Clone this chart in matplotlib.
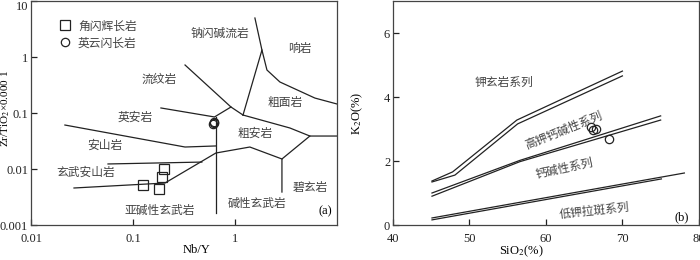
import numpy as np
import matplotlib
matplotlib.use("Agg")
import matplotlib.pyplot as plt

plt.rcParams['font.family'] = ['Liberation Serif', 'Noto Sans CJK SC']
plt.rcParams['mathtext.fontset'] = 'stix'
CJK = ['Noto Sans CJK SC', 'DejaVu Sans']

# ---- (a) Zr/TiO2 - Nb/Y ----
# boundary lines, (Nb/Y, Zr/TiO2*0.0001)
a_lines = [
    [(1.57, 4.97), (1.84, 1.33), (2.06, 0.586), (2.76, 0.358), (6.08, 0.185), (10, 0.145)],
    [(1.84, 1.33), (1.20, 0.092)],
    [(0.324, 0.72), (0.914, 0.128), (1.20, 0.092)],
    [(0.188, 0.123), (0.63, 0.085), (0.914, 0.128)],
    [(1.20, 0.092), (3.46, 0.054), (5.43, 0.0388), (10, 0.0388)],
    [(5.43, 0.0388), (2.89, 0.0151), (2.89, 0.00388)],
    [(2.89, 0.0151), (1.40, 0.0247), (0.65, 0.0193), (0.206, 0.00562), (0.0264, 0.00458)],
    [(0.0215, 0.061), (0.324, 0.0247), (0.65, 0.0258)],
    [(0.65, 0.085), (0.65, 0.00164)],
    [(0.0569, 0.0123), (0.474, 0.0133)],
]
a_labels = ['钠闪碱流岩', '响岩', '流纹岩', '粗面岩', '英安岩', '粗安岩', '安山岩',
            '玄武安山岩', '碧玄岩', '碱性玄武岩', '亚碱性玄武岩']
a_label_x = [0.713, 4.34, 0.18, 3.09, 0.105, 1.57, 0.0531, 0.0346, 5.43, 1.64, 0.184]
a_label_y = [2.68, 1.45, 0.405, 0.157, 0.085, 0.044, 0.0268, 0.00883, 0.00477, 0.00247, 0.00185]

gabbro_nby = [0.125, 0.180, 0.192, 0.201]
gabbro_zr = [0.00518, 0.00439, 0.0072, 0.0100]
tonalite_nby = [0.61, 0.62, 0.63]
tonalite_zr = [0.064, 0.068, 0.066]

# ---- (b) K2O - SiO2 ----
b_lines = [
    [(45.1, 1.375), (47.8, 1.66), (56.2, 3.28), (70.0, 4.81)],
    [(45.1, 1.345), (48.1, 1.56), (56.3, 3.16), (70.0, 4.66)],
    [(45.1, 1.0), (56.6, 2.02), (75.0, 3.41)],
    [(45.1, 0.9), (56.6, 1.98), (75.0, 3.28)],
    [(45.1, 0.22), (78.1, 1.625)],
    [(45.1, 0.16), (75.1, 1.44)],
]
b_labels = ['钾玄岩系列', '高钾钙碱性系列', '钙碱性系列', '低钾拉斑系列']
b_label_x = [54.5, 62.3, 62.4, 66.3]
b_label_y = [4.47, 2.97, 1.78, 0.44]
b_label_rot = [0, 22, 12, 6]

ton_sio2 = [65.9, 66.2, 66.5, 68.2]
ton_k2o = [3.05, 2.98, 3.0, 2.69]

fig = plt.figure(figsize=(7, 2.6), dpi=100)
ax1 = fig.add_axes([0.0443, 0.1346, 0.437, 0.8615])
ax2 = fig.add_axes([0.5614, 0.1346, 0.437, 0.8615])

lc = '#222222'
tc = '#444444'

for ln in a_lines:
    xs, ys = zip(*ln)
    ax1.plot(xs, ys, color=lc, lw=0.9)
for t, x, y in zip(a_labels, a_label_x, a_label_y):
    ax1.text(x, y, t, family=CJK, fontsize=8.5, color=tc, ha='center', va='center')
ax1.plot(gabbro_nby, gabbro_zr, 's', ms=6.5, mfc='none', mec=lc, mew=0.9, label='角闪辉长岩')
ax1.plot(tonalite_nby, tonalite_zr, 'o', ms=6, mfc='none', mec=lc, mew=0.9, label='英云闪长岩')
ax1.set_xscale('log')
ax1.set_yscale('log')
ax1.set_xlim(0.01, 10)
ax1.set_ylim(0.001, 10)
ax1.set_xticks([0.01, 0.1, 1])
ax1.set_xticklabels(['0.01', '0.1', '1'])
ax1.set_yticks([0.001, 0.01, 0.1, 1, 10])
ax1.set_yticklabels(['0.001', '0.01', '0.1', '1', '10'])
ax1.get_yticklabels()[-1].set_va('top')
ax1.minorticks_off()
ax1.set_xlabel('Nb/Y', fontsize=9)
ax1.xaxis.set_label_coords(0.54, -0.085)
ax1.set_ylabel('Zr/TiO$_2$×0.000 1', fontsize=8)
ax1.yaxis.set_label_coords(-0.061, 0.52)
ax1.text(7.62, 0.00178, '(a)', fontsize=9, ha='center', va='center')
leg = ax1.legend(loc='upper left', bbox_to_anchor=(0.065, 0.955), frameon=False,
                 prop={'family': CJK, 'size': 8.5}, handletextpad=0.6,
                 labelspacing=0.35, handlelength=1.0, borderpad=0.2)
for t in leg.get_texts():
    t.set_color(tc)

for ln in b_lines:
    xs, ys = zip(*ln)
    ax2.plot(xs, ys, color=lc, lw=0.9)
for t, x, y, r in zip(b_labels, b_label_x, b_label_y, b_label_rot):
    ax2.text(x, y, t, family=CJK, fontsize=8.5, color=tc, ha='center', va='center',
             rotation=r, rotation_mode='anchor')
ax2.plot(ton_sio2, ton_k2o, 'o', ms=6, mfc='none', mec=lc, mew=0.9)
ax2.set_xlim(40, 80)
ax2.set_ylim(0, 7)
ax2.set_xticks([40, 50, 60, 70, 80])
ax2.set_yticks([0, 2, 4, 6])
ax2.set_xlabel('SiO$_2$(%)', fontsize=9)
ax2.xaxis.set_label_coords(0.42, -0.085)
ax2.set_ylabel('K$_2$O(%)', fontsize=9)
ax2.yaxis.set_label_coords(-0.09, 0.5)
ax2.text(77.7, 0.25, '(b)', fontsize=9, ha='center', va='center')

for ax in (ax1, ax2):
    ax.tick_params(direction='in', length=4, width=0.9, labelsize=9, colors='#222222')
    ax.tick_params(axis='x', pad=6)
    ax.tick_params(axis='y', pad=2)
    for s in ax.spines.values():
        s.set_color('#444444')
        s.set_linewidth(0.9)

fig.savefig('out.png', dpi=100)
